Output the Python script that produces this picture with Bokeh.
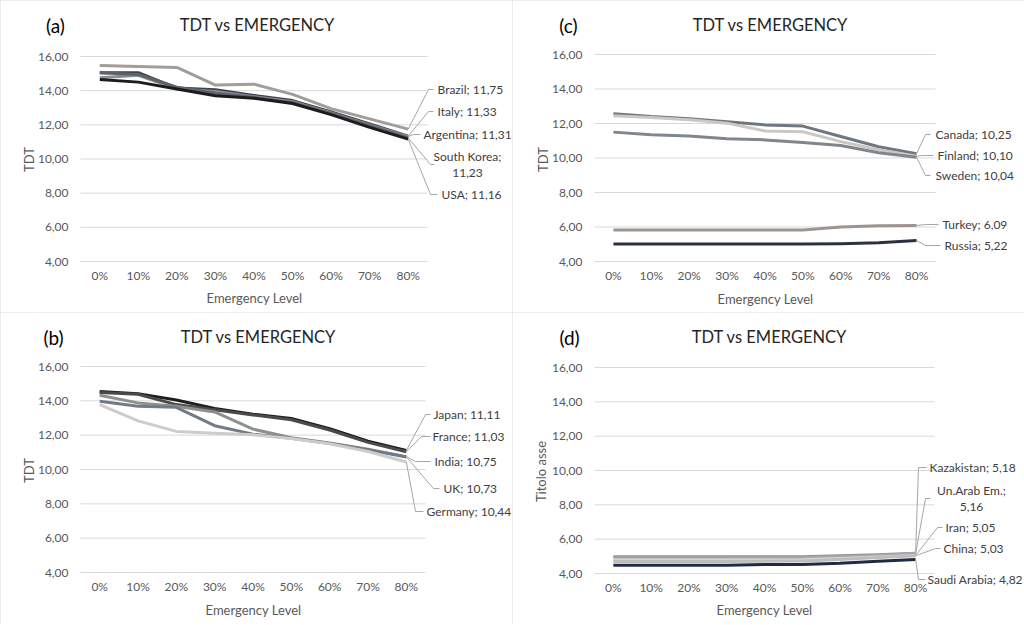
import math
from bokeh.plotting import figure
from bokeh.models import Range1d, FixedTicker, Label, Arrow, ColumnDataSource
from bokeh.layouts import column, row
from bokeh.embed import file_html
from bokeh.resources import INLINE

# ---------------- data ----------------
levels = ["0%", "10%", "20%", "30%", "40%", "50%", "60%", "70%", "80%"]
y_ticks = [4, 6, 8, 10, 12, 14, 16]

# (a)
a_names = ["Brazil", "Italy", "Argentina", "South Korea", "USA"]
a_brazil = [15.47, 15.42, 15.36, 14.33, 14.38, 13.78, 12.95, 12.35, 11.75]
a_italy = [15.05, 15.05, 14.15, 14.05, 13.72, 13.42, 12.75, 12.05, 11.33]
a_argentina = [14.75, 14.90, 14.10, 13.95, 13.65, 13.35, 12.70, 12.00, 11.31]
a_skorea = [15.05, 14.95, 14.20, 13.85, 13.60, 13.30, 12.65, 11.95, 11.23]
a_usa = [14.65, 14.50, 14.10, 13.70, 13.55, 13.25, 12.60, 11.85, 11.16]

# (b)
b_names = ["Japan", "France", "India", "UK", "Germany"]
b_japan = [14.55, 14.42, 14.05, 13.55, 13.22, 12.97, 12.38, 11.65, 11.11]
b_france = [14.48, 14.38, 13.78, 13.48, 13.18, 12.90, 12.30, 11.58, 11.03]
b_india = [14.32, 13.88, 13.68, 13.35, 12.35, 11.85, 11.55, 11.18, 10.75]
b_uk = [13.98, 13.68, 13.62, 12.55, 12.06, 11.82, 11.52, 11.15, 10.73]
b_germany = [13.78, 12.83, 12.22, 12.11, 12.02, 11.80, 11.50, 11.05, 10.44]

# (c)
c_names = ["Canada", "Finland", "Sweden", "Turkey", "Russia"]
c_canada = [12.57, 12.40, 12.28, 12.10, 11.92, 11.85, 11.25, 10.65, 10.25]
c_finland = [12.45, 12.35, 12.22, 12.02, 11.57, 11.52, 10.95, 10.48, 10.10]
c_sweden = [11.50, 11.35, 11.28, 11.12, 11.05, 10.90, 10.72, 10.30, 10.04]
c_turkey = [5.83, 5.83, 5.83, 5.83, 5.83, 5.83, 6.00, 6.07, 6.09]
c_russia = [5.02, 5.02, 5.02, 5.02, 5.02, 5.02, 5.03, 5.08, 5.22]

# (d)
d_names = ["Kazakistan", "Un.Arab Em.", "Iran", "China", "Saudi Arabia"]
d_kazakistan = [4.97, 4.97, 4.97, 4.97, 4.97, 4.98, 5.03, 5.09, 5.18]
d_uae = [4.90, 4.90, 4.90, 4.90, 4.90, 4.92, 4.98, 5.05, 5.16]
d_iran = [4.78, 4.78, 4.78, 4.78, 4.78, 4.80, 4.87, 4.96, 5.05]
d_china = [4.70, 4.70, 4.70, 4.70, 4.71, 4.73, 4.82, 4.93, 5.03]
d_saudi = [4.48, 4.48, 4.48, 4.48, 4.52, 4.53, 4.60, 4.72, 4.82]

# ---------------- styling / layout ----------------
FONT = "Lato"
TXT = "#404040"
TICK = "#595959"
GRID = "#d9d9d9"
LEAD = "#a6a6a6"
FIG_W, FIG_H = 512, 312


def fmt(v):
    return f"{v:.2f}".replace(".", ",")


def make_panel(tag, ylabel, series, colors, names, geo, labels, title_pos, tag_pos,
               ylab_pos, xlab_pos):
    # geo: plot-area left, top (y=16), right, bottom (y=4)  in panel pixels
    L, T, R, B = geo
    n = len(levels)
    ymin, ymax = y_ticks[0], y_ticks[-1]
    ux = (R - L) / n                 # px per category
    uy = (B - T) / (ymax - ymin)     # px per TDT unit

    def sx(px):
        return -0.5 + (px - L) / ux

    def sy(py):
        return ymax - (py - T) / uy

    p = figure(width=FIG_W, height=FIG_H,
               x_range=Range1d(sx(0), sx(FIG_W)), y_range=Range1d(sy(FIG_H), sy(0)),
               output_backend="svg", toolbar_location=None,
               min_border=0, min_border_left=0, min_border_right=0,
               min_border_top=0, min_border_bottom=0, outline_line_color=None)
    p.styles = {"outline": "1px solid #d9d9d9", "outline-offset": "-1px"}

    xs = list(range(n))

    # axes, pinned to the edges of the plot area
    p.xaxis.fixed_location = ymin
    p.yaxis.fixed_location = -0.5
    p.xaxis.ticker = FixedTicker(ticks=xs)
    p.xaxis.major_label_overrides = {i: lv for i, lv in enumerate(levels)}
    p.yaxis.ticker = FixedTicker(ticks=y_ticks)
    p.yaxis.major_label_overrides = {t: fmt(t) for t in y_ticks}
    p.xgrid.visible = False
    p.ygrid.visible = False
    for ax in (p.xaxis[0], p.yaxis[0]):
        ax.axis_line_color = None
        ax.major_tick_line_color = None
        ax.minor_tick_line_color = None
        ax.major_tick_out = 0
        ax.major_tick_in = 0
        ax.minor_tick_out = 0
        ax.minor_tick_in = 0
        ax.major_label_text_font = FONT
        ax.major_label_text_font_size = "12px"
        ax.major_label_text_color = TICK
    p.yaxis.major_label_standoff = 12
    p.xaxis.major_label_standoff = 6

    # axis titles
    p.add_layout(Label(x=sx(ylab_pos[0]), y=sy(ylab_pos[1]), text=ylabel, angle=math.pi / 2,
                       text_align="center", text_baseline="middle", text_font=FONT,
                       text_font_size="13px", text_color=TICK))
    p.add_layout(Label(x=sx(xlab_pos[0]), y=sy(xlab_pos[1]), text="Emergency Level",
                       text_align="center", text_baseline="middle", text_font=FONT,
                       text_font_size="13px", text_color=TICK))

    # horizontal gridlines across the plot area
    p.segment(x0=-0.5, x1=n - 0.5, y0=y_ticks, y1=y_ticks, line_color=GRID, line_width=1)

    # series lines
    for vals, c in zip(series, colors):
        p.line(x=xs, y=vals, line_color=c, line_width=3, line_join="round")

    # leader lines + data labels
    x_last = xs[-1]
    xs0, ys0, xs1, ys1 = [], [], [], []
    for vals, name, (tx, ty, kx, hx, two) in zip(series, names, labels):
        v = vals[-1]
        ly = sy(ty)
        xs0 += [x_last, sx(kx)]
        ys0 += [v, ly]
        xs1 += [sx(kx), sx(hx)]
        ys1 += [ly, ly]
        if two:
            for txt, dy in ((name + ";", -8), (fmt(v), 8)):
                p.add_layout(Label(x=sx(tx), y=sy(ty + dy), text=txt, text_align="center",
                                   text_baseline="middle", text_font=FONT,
                                   text_font_size="12px", text_color=TXT))
        else:
            p.add_layout(Label(x=sx(tx), y=ly, text=f"{name}; {fmt(v)}", text_align="left",
                               text_baseline="middle", text_font=FONT,
                               text_font_size="12px", text_color=TXT))
    src = ColumnDataSource(dict(x0=xs0, y0=ys0, x1=xs1, y1=ys1))
    p.add_layout(Arrow(end=None, source=src, x_start="x0", y_start="y0", x_end="x1", y_end="y1",
                       line_color=LEAD, line_width=1))

    # chart title and panel tag
    p.add_layout(Label(x=sx(title_pos[0]), y=sy(title_pos[1]), text="TDT vs EMERGENCY",
                       text_align="center", text_baseline="middle", text_font=FONT,
                       text_font_size="16.5px", text_color="#262626"))
    p.add_layout(Label(x=sx(tag_pos[0]), y=sy(tag_pos[1]), text=tag,
                       text_align="center", text_baseline="middle", text_font=FONT,
                       text_font_size="19px", text_color="#000000"))
    return p


# label layouts: (text x, text y, kink x, horizontal end x, two-line) in panel pixels
pa = make_panel("(a)", "TDT",
                [a_brazil, a_italy, a_argentina, a_skorea, a_usa],
                ["#a39d99", "#3b4350", "#8a8d92", "#5d636c", "#1c1c1c"], a_names,
                (80, 56, 427, 261),
                [(437, 89, 428, 433, False), (437, 111, 428, 433, False),
                 (423, 134, 413, 420, False), (467, 164, 430, 434, True),
                 (441, 194, 430, 437, False)],
                (257, 24), (55, 25), (28, 159), (254, 297))
pb = make_panel("(b)", "TDT",
                [b_japan, b_france, b_india, b_uk, b_germany],
                ["#1e1e1e", "#4a4a4a", "#8b918d", "#707b88", "#cfccc8"], b_names,
                (80, 54, 425, 260),
                [(433, 102, 425, 430, False), (432, 124, 421, 430, False),
                 (434, 149, 415, 430, False), (443, 176, 433, 439, False),
                 (426, 199, 415, 423, False)],
                (258, 24), (53, 25), (28, 158), (253, 297))
pc = make_panel("(c)", "TDT",
                [c_canada, c_finland, c_sweden, c_turkey, c_russia],
                ["#6f7780", "#cbc8c3", "#80868d", "#9e948f", "#2b3140"], c_names,
                (82, 54, 423, 261),
                [(423, 134, 413, 418, False), (425, 155, 409, 421, False),
                 (423, 175, 413, 418, False), (430, 224, 414, 426, False),
                 (432, 245, 413, 428, False)],
                (258, 24), (56, 25), (30, 159), (253, 298))
pd_ = make_panel("(d)", "Titolo asse",
                 [d_kazakistan, d_uae, d_iran, d_china, d_saudi],
                 ["#8e9297", "#a8a8a8", "#d6d6d6", "#bdbdbd", "#1f2a44"], d_names,
                 (82, 55, 422, 261),
                 [(417, 155, 406, 414, False), (459, 186, 413, 418, True),
                  (433, 215, 425, 430, False), (431, 236, 423, 428, False),
                  (415, 267, 406, 413, False)],
                 (257, 24), (57, 25), (28, 159), (252, 297))

layout = column(row(pa, pc), row(pb, pd_))
open("out.html", "w").write(file_html(layout, INLINE))
